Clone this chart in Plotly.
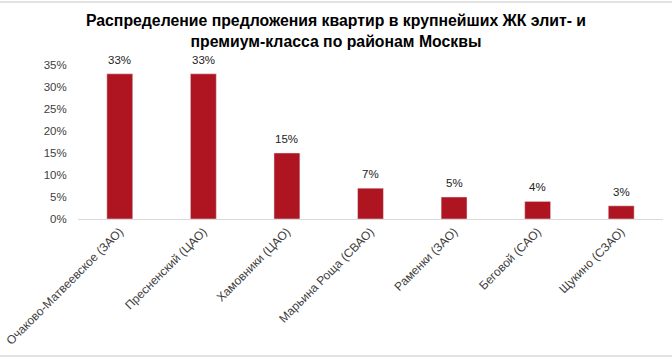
import plotly.graph_objects as go

categories = ["Очаково-Матвеевское (ЗАО)", "Пресненский (ЦАО)", "Хамовники (ЦАО)",
              "Марьина Роща (СВАО)", "Раменки (ЗАО)", "Беговой (САО)", "Щукино (СЗАО)"]
values = [0.33, 0.33, 0.15, 0.07, 0.05, 0.04, 0.03]
labels = ["33%", "33%", "15%", "7%", "5%", "4%", "3%"]
yticks = [0, 0.05, 0.10, 0.15, 0.20, 0.25, 0.30, 0.35]
yticklabels = ["0%", "5%", "10%", "15%", "20%", "25%", "30%", "35%"]

W, H = 672, 359
ML, MR, MT, MB = 78, 9, 65, 140
pw, ph = W - ML - MR, H - MT - MB

def px_to_paper_x(px):
    return (px - ML) / pw

def px_to_paper_y(py):
    return (H - MB - py) / ph

fig = go.Figure(go.Bar(
    x=categories, y=values,
    marker_color="#AE1520", hoverinfo="skip",
))
for c, v, t in zip(categories, values, labels):
    fig.add_annotation(x=c, y=v, text=t, showarrow=False, yanchor="bottom",
                       yshift=6, font=dict(size=11.5, color="#222222"))
fig.update_layout(
    width=W, height=H,
    margin=dict(l=ML, r=MR, t=MT, b=MB, autoexpand=False),
    paper_bgcolor="white", plot_bgcolor="white",
    font=dict(family="Liberation Sans, Arial", size=11.5, color="#404040"),
    title=dict(text="<b>Распределение предложения квартир в крупнейших ЖК элит- и<br>премиум-класса по районам Москвы</b>",
               x=0.5, xanchor="center", y=1 - 26 / H, yanchor="top",
               font=dict(size=15.8, color="#000000")),
    bargap=0.69, showlegend=False,
)
fig.update_xaxes(tickangle=-45, showline=True, linecolor="#D9D9D9", linewidth=1,
                 ticks="", automargin=False, tickfont=dict(size=12, color="#404040"))
fig.update_yaxes(range=[0, 0.35], tickvals=yticks, ticktext=yticklabels,
                 showgrid=False, zeroline=False, showline=False, automargin=False,
                 ticks="outside", ticklen=8, tickcolor="rgba(0,0,0,0)",
                 tickfont=dict(size=11.5, color="#404040"))
for py in (2, 356):
    fig.add_shape(type="line", xref="paper", yref="paper",
                  x0=px_to_paper_x(0), x1=px_to_paper_x(W),
                  y0=px_to_paper_y(py), y1=px_to_paper_y(py),
                  line=dict(color="#D9D9D9", width=1.5))
fig.write_html("out.html", config={"displayModeBar": False},
               post_script="document.body.style.margin='0';document.body.style.overflow='hidden';")
